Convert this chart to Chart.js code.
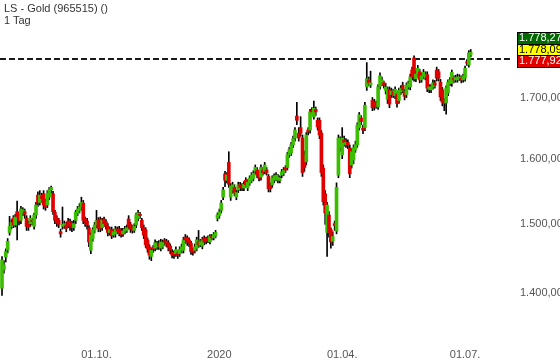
<!DOCTYPE html>
<html><head><meta charset="utf-8">
<script src="https://cdn.jsdelivr.net/npm/chart.js@4"></script>
<style>
html,body{margin:0;padding:0;background:#fff;}
#wrap{position:relative;width:560px;height:363px;overflow:hidden;}
canvas{position:absolute;left:0;top:0;}
#title{position:absolute;left:4px;top:2px;font:11px "Liberation Sans",Arial,sans-serif;color:#333;line-height:12px;}
</style></head><body>
<div id="wrap"><canvas id="c" width="560" height="363"></canvas><div id="title">LS - Gold (965515) ()<br>1 Tag</div></div>
<script>
// ---- data (USD, daily candles) ----
const opens=[1407,1433,1451,1461,1487,1496,1508,1498,1518,1510,
1505,1516,1518,1508,1500,1500,1505,1496,1513,1543,
1532,1542,1545,1533,1528,1540,1551,1545,1517,1508,
1505,1488,1496,1497,1498,1504,1503,1500,1494,1505,
1516,1520,1525,1531,1507,1504,1494,1461,1478,1490,
1498,1505,1507,1494,1507,1503,1496,1487,1491,1483,
1485,1492,1492,1489,1485,1489,1490,1507,1499,1493,
1490,1498,1508,1514,1505,1494,1491,1476,1466,1452,
1465,1464,1466,1471,1464,1467,1475,1474,1472,1467,
1458,1456,1456,1457,1456,1461,1461,1480,1479,1476,
1471,1461,1461,1464,1473,1469,1467,1479,1477,1479,
1473,1481,1479,1482,1508,1512,1520,1540,1576,1566,
1594,1540,1551,1555,1540,1551,1559,1557,1554,1566,
1554,1562,1566,1569,1580,1582,1577,1571,1582,1580,
1582,1572,1559,1559,1566,1569,1566,1566,1574,1577,
1585,1586,1606,1609,1622,1633,1669,1641,1650,1633,
1606,1595,1646,1646,1679,1668,1680,1662,1662,1641,
1585,1545,1487,1513,1491,1474,1500,1489,1574,1618,
1606,1630,1622,1626,1617,1590,1598,1614,1622,1650,
1666,1649,1650,1718,1730,1721,1695,1692,1690,1684,
1719,1725,1725,1712,1697,1714,1705,1710,1703,1706,
1695,1710,1721,1710,1705,1718,1718,1747,1768,1732,
1740,1744,1730,1737,1734,1739,1714,1713,1718,1725,
1747,1744,1726,1713,1694,1691,1708,1724,1724,1733,
1730,1730,1733,1733,1730,1733,1761,1756,1774];
const highs=[1452,1446,1463,1478,1511,1506,1512,1514,1534,1515,
1526,1524,1522,1512,1504,1512,1508,1516,1532,1548,
1550,1546,1550,1537,1550,1555,1557,1549,1520,1512,
1508,1492,1525,1504,1502,1508,1507,1504,1505,1520,
1526,1530,1540,1535,1510,1508,1497,1486,1494,1502,
1520,1509,1510,1508,1510,1506,1500,1495,1495,1492,
1496,1495,1496,1493,1493,1496,1498,1512,1502,1497,
1500,1516,1520,1517,1508,1498,1494,1479,1469,1464,
1468,1476,1474,1475,1477,1476,1478,1477,1475,1470,
1462,1460,1466,1460,1466,1470,1480,1484,1482,1479,
1474,1464,1470,1480,1490,1477,1480,1482,1480,1482,
1484,1484,1487,1490,1516,1522,1535,1555,1580,1578,
1611,1561,1563,1559,1551,1563,1563,1561,1564,1570,
1567,1573,1578,1581,1590,1586,1580,1590,1586,1594,
1586,1575,1562,1573,1576,1578,1575,1573,1583,1586,
1589,1610,1618,1626,1636,1650,1692,1650,1668,1638,
1612,1642,1650,1680,1683,1694,1684,1666,1666,1645,
1590,1550,1532,1518,1494,1488,1504,1562,1638,1635,
1650,1636,1632,1630,1622,1616,1622,1628,1658,1675,
1670,1654,1692,1760,1735,1745,1700,1697,1694,1722,
1742,1735,1728,1724,1718,1718,1716,1714,1718,1710,
1716,1720,1726,1714,1725,1728,1740,1752,1772,1745,
1755,1748,1742,1748,1744,1744,1722,1722,1730,1729,
1752,1748,1731,1717,1698,1720,1730,1734,1747,1737,
1738,1740,1739,1737,1740,1754,1765,1781,1783];
const lows=[1397,1428,1444,1457,1483,1492,1494,1495,1476,1498,
1500,1512,1508,1490,1490,1496,1498,1492,1508,1526,
1528,1532,1522,1520,1524,1536,1546,1514,1500,1496,
1494,1480,1492,1493,1488,1494,1490,1488,1490,1500,
1512,1516,1520,1500,1496,1492,1466,1456,1474,1486,
1494,1488,1488,1490,1496,1492,1482,1483,1478,1480,
1480,1485,1482,1480,1481,1485,1487,1492,1487,1486,
1487,1494,1504,1508,1490,1478,1465,1458,1448,1446,
1458,1460,1462,1462,1460,1463,1468,1466,1460,1456,
1450,1449,1452,1449,1452,1457,1457,1471,1468,1466,
1455,1454,1457,1460,1465,1466,1463,1469,1470,1472,
1470,1476,1476,1479,1504,1508,1516,1536,1556,1562,
1555,1535,1546,1542,1536,1547,1550,1550,1550,1555,
1550,1558,1562,1565,1576,1570,1565,1566,1574,1576,
1574,1548,1548,1555,1562,1565,1562,1562,1570,1573,
1578,1582,1602,1605,1618,1628,1655,1628,1636,1572,
1580,1590,1638,1641,1672,1664,1670,1646,1632,1572,
1528,1499,1452,1480,1464,1468,1490,1485,1570,1612,
1600,1620,1618,1616,1570,1585,1592,1610,1618,1646,
1655,1640,1645,1712,1720,1717,1678,1679,1682,1680,
1714,1720,1716,1706,1690,1683,1700,1700,1698,1684,
1690,1705,1708,1696,1700,1714,1713,1730,1728,1727,
1735,1725,1726,1732,1730,1710,1708,1708,1714,1716,
1728,1728,1695,1686,1678,1672,1703,1720,1719,1725,
1726,1726,1729,1725,1726,1728,1755,1752,1770];
const closes=[1447,1440,1459,1474,1496,1502,1498,1510,1510,1504,
1522,1520,1514,1496,1495,1508,1503,1513,1528,1531,
1543,1538,1528,1525,1546,1551,1555,1518,1505,1501,
1499,1485,1499,1500,1493,1498,1496,1494,1500,1517,
1522,1525,1532,1505,1502,1498,1473,1483,1491,1498,
1505,1493,1493,1505,1500,1496,1487,1491,1482,1488,
1492,1489,1486,1484,1489,1492,1494,1496,1492,1490,
1496,1513,1516,1512,1494,1483,1469,1463,1454,1461,
1463,1472,1470,1467,1473,1472,1473,1470,1465,1461,
1454,1454,1462,1454,1462,1466,1476,1476,1473,1471,
1459,1458,1466,1476,1469,1473,1476,1473,1474,1476,
1481,1479,1484,1487,1513,1518,1531,1551,1566,1574,
1560,1557,1559,1547,1547,1559,1555,1554,1560,1559,
1563,1569,1574,1577,1586,1574,1569,1586,1578,1590,
1578,1553,1553,1569,1572,1574,1571,1569,1579,1582,
1582,1606,1614,1622,1632,1646,1662,1633,1641,1578,
1586,1638,1643,1676,1676,1682,1676,1651,1638,1578,
1533,1516,1528,1487,1473,1481,1497,1555,1633,1630,
1633,1626,1626,1622,1576,1611,1617,1622,1654,1671,
1660,1646,1687,1732,1725,1725,1683,1684,1686,1718,
1737,1730,1721,1718,1713,1689,1711,1705,1714,1690,
1712,1716,1713,1702,1721,1724,1735,1735,1735,1740,
1750,1730,1737,1743,1739,1716,1718,1718,1725,1721,
1733,1733,1701,1692,1690,1716,1726,1730,1743,1730,
1734,1735,1735,1730,1736,1750,1759,1777,1778];

// x-axis ticks: candle index of first trading day and label
const xTickIndex=[50,115,180,245];
const xTickLabels=['01.10.','2020','01.04.','01.07.'];
// y-axis ticks
const yTicks=[1400,1500,1600,1700];
// horizontal dashed reference level
const refLevel=1767;
// quote boxes (ask / last / bid)
const quoteValues=[1778.27,1778.09,1777.92];
const quoteLabels=['1.778,27','1.778,09','1.777,92'];

// axis ranges
const X_MIN=-1.06, X_MAX=269.84;
const Y_MIN=1336.5, Y_MAX=1872.7;

const GREEN='#3cbe00', RED='#e00000';

function fmt(v){
  const s=v.toFixed(2).split('.');
  const i=s[0].replace(/\B(?=(\d{3})+(?!\d))/g,'.');
  return i+','+s[1];
}

const bodies=opens.map((o,i)=>({x:i,y:[o,closes[i]]}));
const wicks=lows.map((l,i)=>({x:i,y:[l,highs[i]]}));
const bodyColors=opens.map((o,i)=>closes[i]>=o?GREEN:RED);

const refLinePlugin={
  id:'refLine',
  beforeDatasetsDraw(chart){
    const {ctx,chartArea:a,scales:{y}}=chart;
    const py=Math.round(y.getPixelForValue(refLevel));
    ctx.save();
    ctx.strokeStyle='#1a1a1a';ctx.lineWidth=2;ctx.setLineDash([6,3]);
    ctx.beginPath();ctx.moveTo(a.left,py);ctx.lineTo(a.right,py);ctx.stroke();
    ctx.restore();
  }
};
const quotePlugin={
  id:'quotes',
  afterDraw(chart){
    const {ctx,chartArea:a,scales:{y}}=chart;
    const cy=y.getPixelForValue(quoteValues[1])-3;
    const h=11.5, x0=a.right+5, w=60;
    const fills=['#006a00','#ffff00','#e00000'];
    const txt=['#ffffff','#000000','#ffffff'];
    ctx.save();
    ctx.font='11px "Liberation Sans", Arial, sans-serif';
    ctx.textBaseline='middle';ctx.textAlign='left';
    for(let k=0;k<3;k++){
      const top=Math.round(cy-h*1.5+k*h);
      ctx.fillStyle=fills[k];ctx.fillRect(x0,top,w,Math.round(h));
      ctx.strokeStyle='#000';ctx.lineWidth=1;ctx.strokeRect(x0+0.5,top+0.5,w,Math.round(h));
      ctx.fillStyle=txt[k];ctx.fillText(quoteLabels[k],x0+2,top+h/2+0.5);
    }
    ctx.restore();
  }
};

new Chart(document.getElementById('c'),{
  type:'bar',
  data:{datasets:[
    {label:'body',data:bodies,backgroundColor:bodyColors,borderWidth:0,barThickness:3,grouped:false,minBarLength:1},
    {label:'wick',data:wicks,backgroundColor:'#000',borderWidth:0,barThickness:1,grouped:false}
  ]},
  options:{
    responsive:false,animation:false,devicePixelRatio:1,
    layout:{padding:0},
    plugins:{legend:{display:false},tooltip:{enabled:false},title:{display:false}},
    scales:{
      x:{type:'linear',min:X_MIN,max:X_MAX,offset:false,
        grid:{display:false,drawTicks:false,offset:false},border:{display:false},
        afterBuildTicks(s){s.ticks=xTickIndex.map(v=>({value:v}));},
        afterFit(s){s.height=23;s.paddingLeft=0;s.paddingRight=0;s.paddingTop=0;s.paddingBottom=0;},
        ticks:{padding:8,maxRotation:0,autoSkip:false,color:'#555',font:{family:'"Liberation Sans", Arial, sans-serif',size:11},
          callback:(v)=>{const k=xTickIndex.indexOf(v);return k>=0?xTickLabels[k]:'';}}
      },
      y:{type:'logarithmic',position:'right',min:Y_MIN,max:Y_MAX,
        grid:{display:false,drawTicks:false},border:{display:false},
        afterBuildTicks(s){s.ticks=yTicks.map(v=>({value:v}));},
        afterFit(s){s.width=48;s.paddingTop=0;s.paddingBottom=0;s.paddingLeft=0;s.paddingRight=0;},
        ticks:{padding:8,color:'#555',font:{family:'"Liberation Sans", Arial, sans-serif',size:11},
          callback:(v)=>fmt(v)}
      }
    }
  },
  plugins:[refLinePlugin,quotePlugin]
});
</script>
</body></html>
